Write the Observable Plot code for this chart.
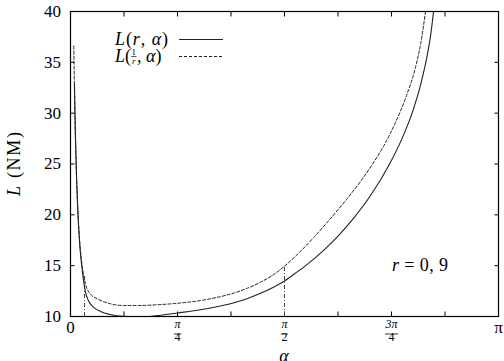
<!DOCTYPE html>
<html><head><meta charset="utf-8">
<script src="https://cdn.jsdelivr.net/npm/d3@7"></script>
<script src="https://cdn.jsdelivr.net/npm/@observablehq/plot@0.6"></script>
<style>body{margin:0;background:#fff} svg, svg text{font-family:"Liberation Serif","Times New Roman",serif}</style>
</head><body><div id="chart"></div>
<script>
// ---- data (alpha in radians, L in NM) ----
const alphaSolid = [0.029,0.035,0.045,0.055,0.068,0.08,0.095,0.11,0.13,0.17,0.22,0.29,0.39,0.5,0.6,0.785,0.954,1.1,1.2,1.3,1.4,1.5,1.571,1.65,1.74,1.85,1.96,2.08,2.2,2.34,2.43,2.515,2.57,2.62,2.645,2.665];
const LSolid     = [32.9,28.5,23.5,20.0,17.0,15.3,13.6,12.4,11.6,10.9,10.5,10.2,10.02,9.98,10.03,10.35,10.66,11.03,11.35,11.78,12.3,12.95,13.5,14.25,15.15,16.4,17.85,19.7,21.85,24.95,27.4,30.3,32.8,35.8,37.8,40.0];
const alphaDashed = [0.024,0.03,0.04,0.05,0.062,0.075,0.09,0.11,0.147,0.196,0.294,0.39,0.5,0.63,0.785,0.954,1.1,1.2,1.3,1.4,1.5,1.571,1.68,1.787,1.9,2.031,2.13,2.227,2.3,2.386,2.46,2.532,2.57,2.606];
const LDashed     = [36.6,31.5,25.5,21.5,18.5,16.2,14.6,13.2,12.2,11.75,11.25,11.08,11.08,11.15,11.3,11.57,11.95,12.31,12.79,13.41,14.2,14.95,16.3,17.8,19.5,21.6,23.3,25.2,26.8,29.1,31.5,34.5,36.8,40.0];
const guideAlpha = [0.103, Math.PI/2];
const guideTop   = [14.1, 15.0];
const xTickVals  = [0, Math.PI/8, Math.PI/4, 3*Math.PI/8, Math.PI/2, 5*Math.PI/8, 3*Math.PI/4, 7*Math.PI/8, Math.PI];
const yTickVals  = [10, 15, 20, 25, 30, 35, 40];
const xPlainVals = [0, Math.PI];
const xPlainText = ["0", "π"];
const xFracVals  = [Math.PI/4, Math.PI/2, 3*Math.PI/4];
const xFracNum   = ["π", "π", "3π"];
const xFracDen   = ["4", "2", "4"];

const solid  = alphaSolid.map((a,i) => ({a, L: LSolid[i]}));
const dashed = alphaDashed.map((a,i) => ({a, L: LDashed[i]}));
const guides = guideAlpha.map((a,i) => ({a, top: guideTop[i]}));
const plain  = xPlainVals.map((v,i) => ({v, t: xPlainText[i]}));
const fracs  = xFracVals.map((v,i) => ({v, n: xFracNum[i], d: xFracDen[i]}));

const FONT = '"Liberation Serif","Times New Roman",serif';
const bar = {draw(ctx, size){ const r = Math.sqrt(size/Math.PI); ctx.moveTo(-r,0); ctx.lineTo(r,0); }};

const chart = Plot.plot({
  width: 504, height: 361,
  marginLeft: 70, marginRight: 6, marginTop: 11, marginBottom: 45,
  x: {domain: [0, Math.PI]},
  y: {domain: [10, 40]},
  style: {fontFamily: FONT, fontSize: "16px", background: "white", color: "black"},
  marks: [
    Plot.axisX({anchor: "bottom", ticks: xTickVals, tickSize: -4.5, tickFormat: () => "", label: null}),
    Plot.axisX({anchor: "top", ticks: xTickVals, tickSize: -4.5, tickFormat: () => "", label: null}),
    Plot.axisY({anchor: "left", ticks: yTickVals, tickSize: -4.5, tickPadding: 14, fontSize: 17, label: null}),
    Plot.axisY({anchor: "right", ticks: yTickVals, tickSize: -4.5, tickFormat: () => "", label: null}),
    Plot.ruleX(guides, {x: "a", y1: 10, y2: "top", stroke: "#444", strokeWidth: 1, strokeDasharray: "4,2,1,2"}),
    Plot.line(dashed, {x: "a", y: "L", stroke: "#222", strokeWidth: 1, strokeDasharray: "3,2", curve: "monotone-x", clip: true}),
    Plot.line(solid, {x: "a", y: "L", stroke: "#222", strokeWidth: 1.1, curve: "monotone-x", clip: true}),
    Plot.frame({stroke: "black", strokeWidth: 1.2}),
    Plot.text(plain, {x: "v", text: "t", frameAnchor: "bottom", dy: 16, fontSize: 17, fontStyle: d => d.t === "π" ? "italic" : "normal"}),
    Plot.text(fracs, {x: "v", text: "n", frameAnchor: "bottom", dy: 11, fontSize: 12, fontStyle: "italic"}),
    Plot.dot(fracs.filter(d => d.n.length === 1), {x: "v", frameAnchor: "bottom", dy: 17.5, symbol: bar, r: 3.6, stroke: "black", strokeWidth: 0.8}),
    Plot.dot(fracs.filter(d => d.n.length > 1), {x: "v", frameAnchor: "bottom", dy: 17.5, symbol: bar, r: 6.5, stroke: "black", strokeWidth: 0.8}),
    Plot.text(fracs, {x: "v", text: "d", frameAnchor: "bottom", dy: 24.5, fontSize: 12})
  ]
});
document.getElementById("chart").appendChild(chart);

// ---- rich text annotations (legend, axis labels) ----
const svg = d3.select(chart);
const g = svg.append("g").attr("font-family", FONT).attr("fill", "black").attr("font-size", 18).attr("text-anchor", "start");
function rich(x, y, parts, opts = {}) {
  const t = g.append("text").attr("x", x).attr("y", y).attr("text-anchor", opts.anchor || "start");
  if (opts.len) t.attr("textLength", opts.len).attr("lengthAdjust", "spacing");
  if (opts.transform) t.attr("transform", opts.transform);
  if (opts.size) t.attr("font-size", opts.size);
  parts.forEach(([s, it, extra]) => {
    const ts = t.append("tspan").attr("font-style", it ? "italic" : "normal").text(s);
    if (extra) Object.entries(extra).forEach(([k, v]) => ts.attr(k, v));
  });
  return t;
}
const LEFT = 115;
// legend row 1
rich(LEFT, 45, [["L",1],["(",0],["r",1],[", ",0],["α",1],[")",0]], {len: 53});
g.append("line").attr("x1", 179).attr("x2", 223).attr("y1", 39.5).attr("y2", 39.5).attr("stroke", "#222").attr("stroke-width", 1.1);
// legend row 2: L(1/r, α) as one flowing text
const row2 = rich(LEFT, 62, [
  ["L",1],["(",0],
  ["1",0,{"font-size": 9, dy: -7.5, dx: 0.6}],
  ["r",1,{"font-size": 9, dx: -4.2, dy: 9.3}],
  [",",0,{dx: 1.6, dy: -1.8}],[" ",0],["α",1],[")",0]
]);
let bx = LEFT + 17.5;
try { bx = row2.node().getStartPositionOfChar(2).x; } catch (e) {}
g.append("line").attr("x1", bx - 0.4).attr("x2", bx + 4.9).attr("y1", 56.6).attr("y2", 56.6).attr("stroke", "black").attr("stroke-width", 0.7);
g.append("line").attr("x1", 179).attr("x2", 223).attr("y1", 56.5).attr("y2", 56.5).attr("stroke", "#222").attr("stroke-width", 1).attr("stroke-dasharray", "3,2");
// y label
rich(0, 0, [["L",1],[" (NM)",0]], {anchor: "middle", len: 64, transform: "translate(20,164) rotate(-90)"});
// parameter label
rich(392, 271, [["r",1],[" = 0, 9",0]], {len: 56});
// x label
rich(284, 362, [["α",1]], {anchor: "middle"});
</script></body></html>
